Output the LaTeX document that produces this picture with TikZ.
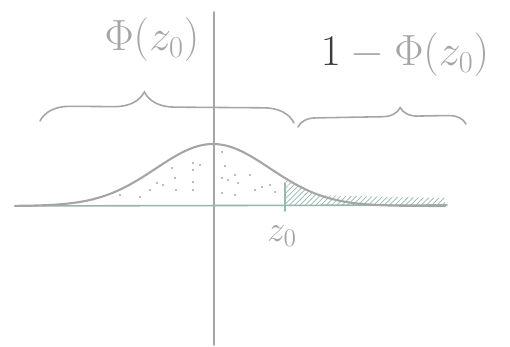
\documentclass[tikz,border=0pt]{standalone}
\usepackage{amsmath,amssymb}
\usepackage{tikz}
\usetikzlibrary{decorations.pathreplacing,patterns,calc}
\usepackage{xcolor}
\definecolor{pencil}{RGB}{165,165,165}
\definecolor{sage}{RGB}{150,185,175}
\definecolor{ink}{RGB}{60,60,60}

\begin{document}
\begin{tikzpicture}[
    x=0.02cm, y=-0.02cm,
    line cap=round,
    sketch/.style={draw=pencil, line width=0.9pt},
    curly/.style={sketch, decorate, decoration={brace}},
    every node/.style={inner sep=1pt, text=pencil}
  ]
    \useasboundingbox (0,0) rectangle (510,347);
    % axes
    \coordinate (yt) at (214,12);
    \coordinate (yb) at (214,345);
    \coordinate (xl) at (15,206);
    \coordinate (xr) at (447,205);
    % shaded areas under the curve
    \fill[pattern=north east lines, pattern color=sage]
      plot[domain=286:320, samples=12] (\x, {206-62*exp(-((\x-213)/57)^2/2)})
      -- (445,198) -- (445,206) -- (286,206) -- cycle;
    \foreach \p in {(120,195),(140,197),(150,190),(157,183),(163,185),(172,168),(175,178),(176,190),
                    (193,163),(193,170),(200,165),(193,182),(193,190),(222,152),(225,166),(222,178),
                    (228,180),(235,175),(238,183),(222,193),(235,195),(250,175),(255,190),(262,187),
                    (270,185),(275,192)}
      \fill[pencil] \p circle[radius=1.1];
    \draw[sketch] (yt) -- (yb);
    \draw[draw=sage!70!pencil, line width=0.9pt] (xl) -- (xr);
    % bell curve
    \draw[sketch, line width=1.2pt] plot[domain=15:445, samples=90] (\x, {206-62*exp(-((\x-213)/57)^2/2)});
    % z0 mark
    \coordinate (zt) at (285,183);
    \coordinate (zb) at (285,211);
    \draw[draw=sage, line width=0.9pt] (zt) -- (zb);
    \node (z0) at (282,236) {\fontsize{20}{24}\selectfont$z_0$};
    % braces
    \coordinate (bl1) at (40,121);
    \coordinate (bl2) at (294,123);
    \coordinate (br1) at (298,127);
    \coordinate (br2) at (466,124);
    \draw[curly, decoration={amplitude=17pt, aspect=0.41}] (bl1) -- (bl2);
    \draw[curly, decoration={amplitude=10pt, aspect=0.61}] (br1) -- (br2);
    % labels
    \node (phi) at (152,40) {\fontsize{26}{30}\selectfont$\Phi(z_0)$};
    \node (rest) at (405,55) {\fontsize{26}{30}\selectfont$\textcolor{ink}{1}-\Phi(z_0)$};
  \end{tikzpicture}
\end{document}
